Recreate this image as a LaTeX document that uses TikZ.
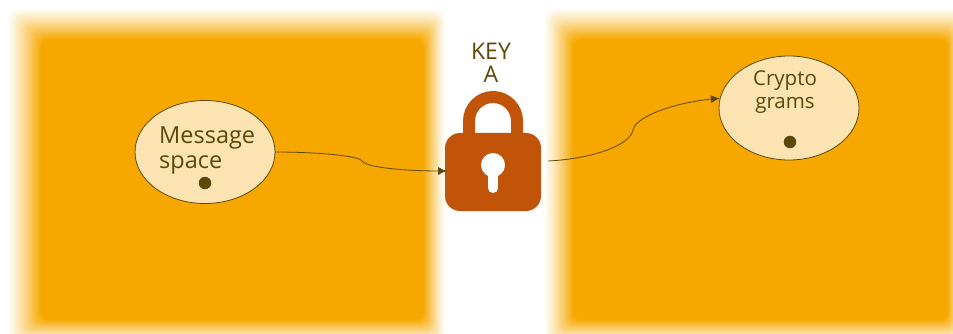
\documentclass[tikz,border=0pt]{standalone}
\usepackage{fontspec}
\setmainfont{Open Sans}
\usetikzlibrary{arrows.meta,shapes.geometric}
\definecolor{panelc}{HTML}{F6A800}
\definecolor{lockc}{HTML}{C2540A}
\definecolor{spacec}{HTML}{FCE4B2}
\definecolor{inkc}{HTML}{5F4708}
\begin{document}
\begin{tikzpicture}[x=1pt,y=-1pt,
			myell/.style={ellipse,draw=inkc,fill=spacec,line width=.8pt,inner sep=0pt},
			mydot/.style={circle,fill=inkc,inner sep=0pt,minimum size=12.5pt},
			mytext/.style={text=inkc,inner sep=0pt,align=left,font=\fontsize{23.5}{25}\selectfont},
			myarrow/.style={draw=inkc,line width=.8pt,-{Latex[length=9pt,width=8pt]}}
			]
			\useasboundingbox (0,0) rectangle (953,334);
			% soft edged panels
			\foreach \i in {1,...,20}{
				\pgfmathsetmacro{\shade}{100*(\i/20)^1.2}
				\fill[panelc!\shade!white,rounded corners=8pt] (6+1.75*\i,7+1.6*\i) rectangle (446-1.1*\i,345-1.25*\i);
				\fill[panelc!\shade!white,rounded corners=8pt] (543+1.5*\i,7+1.6*\i) rectangle (964-.8*\i,345-1.25*\i);
			}
			%%%%%%%%%%%%%%%
			\node[myell,minimum width=140pt,minimum height=103pt] (msg) at (205,152) {};
			\node[mydot] (msgdot) at (205,183) {};
			\node[mytext,anchor=west] (msgtext) at (159,150) {Message\\space};
			%%%%%%%%%%%%%%%
			\node[myell,minimum width=140pt,minimum height=104pt] (cry) at (789,108) {};
			\node[mydot] (crydot) at (790,142) {};
			\node[mytext,align=center,font=\fontsize{20.5}{23.5}\selectfont] (crytext) at (785,92) {Crypto\\grams};
			%%%%%%%%%%%%%%%
			\node[mytext,align=center,font=\fontsize{23}{23}\selectfont] (key) at (491,63) {KEY\\A};
			% lock
			\draw[lockc,line width=12pt] (469,140) -- (469,121) arc[start angle=180,end angle=0,x radius=24,y radius=-24] -- (517,140);
			\node[fill=lockc,rounded corners=15pt,minimum width=96pt,minimum height=78pt,inner sep=0pt] (lock) at (493,172) {};
			\node[circle,fill=white,inner sep=0pt,minimum size=24pt] (hole) at (493,165) {};
			\draw[white,line width=10pt,line cap=round] (hole.center) -- (493,188);
			%%%%%%%%%%%%%%%
			\coordinate (in) at (447,171);
			\coordinate (out) at (548,161);
			\draw[myarrow] (msg.east) .. controls (310,152) and (358,155) .. (362,161) .. controls (366,168) and (410,171) .. (in);
			\draw[myarrow] (out) .. controls (590,159) and (630,146) .. (633,130) .. controls (636,115) and (680,102) .. (cry.172);
		\end{tikzpicture}
\end{document}
